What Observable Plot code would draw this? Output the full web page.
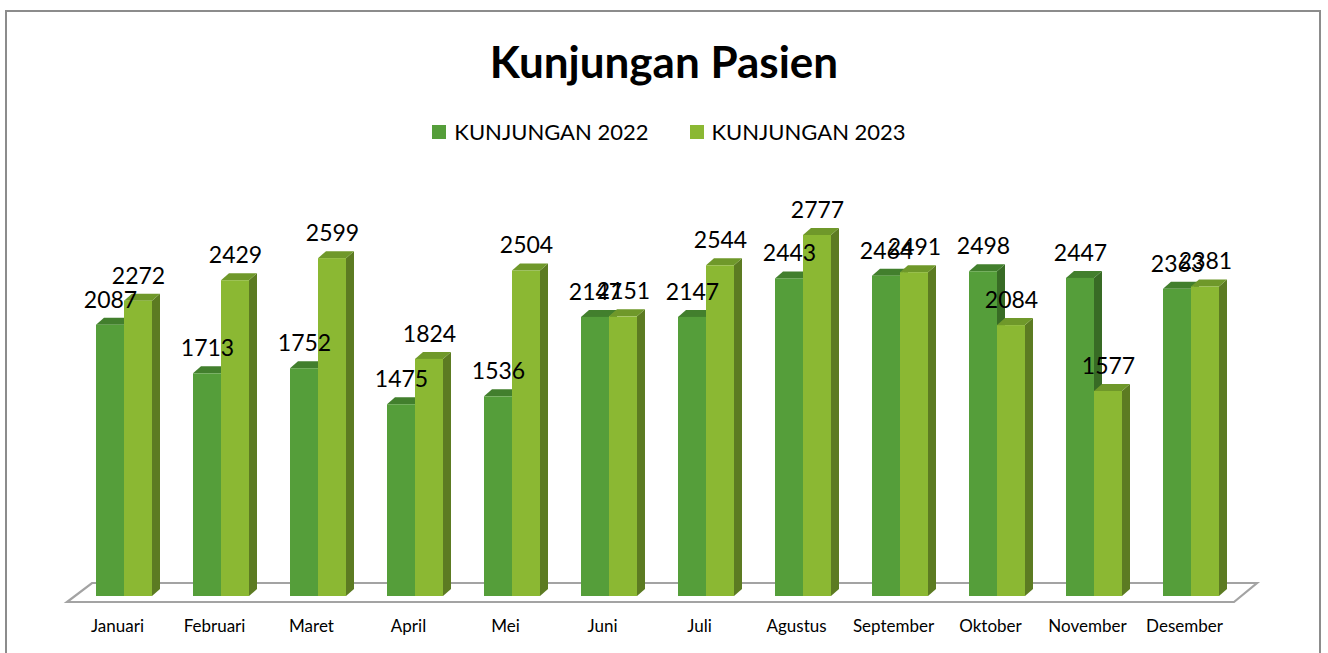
<!DOCTYPE html>
<html>
<head>
<meta charset="utf-8">
<script src="https://cdn.jsdelivr.net/npm/d3@7"></script>
<script src="https://cdn.jsdelivr.net/npm/@observablehq/plot@0.6"></script>
<style>
html, body { margin: 0; padding: 0; background: #fff; }
body { width: 1328px; height: 653px; overflow: hidden; position: relative; font-family: Lato, "Open Sans", sans-serif; color: #000; }
#border { position: absolute; left: 5px; top: 10px; width: 1316px; height: 720px; border: 2px solid #8c8c8c; box-sizing: border-box; }
#title { position: absolute; left: 0; top: 39px; width: 1328px; text-align: center; font-weight: 700; font-size: 44px; line-height: 44px; }
#legend { position: absolute; left: 0; top: 121px; width: 1338px; display: flex; justify-content: center; align-items: center; font-size: 22px; line-height: 22px; }
#legend .item { display: flex; align-items: center; }
#legend .item + .item { margin-left: 41px; }
#legend .sw { width: 14px; height: 14px; margin-right: 8px; }
#chart { position: absolute; left: 0; top: 160px; }
</style>
</head>
<body>
<div id="border"></div>
<div id="title"></div>
<div id="legend"></div>
<div id="chart"></div>
<script>
const chartTitle = "Kunjungan Pasien";
const months = ["Januari", "Februari", "Maret", "April", "Mei", "Juni", "Juli", "Agustus", "September", "Oktober", "November", "Desember"];
const seriesNames = ["KUNJUNGAN 2022", "KUNJUNGAN 2023"];
const kunjungan2022 = [2087, 1713, 1752, 1475, 1536, 2147, 2147, 2443, 2464, 2498, 2447, 2363];
const kunjungan2023 = [2272, 2429, 2599, 1824, 2504, 2151, 2544, 2777, 2491, 2084, 1577, 2381];

const palette = [
  {front: "#559e3a", top: "#427f2d", side: "#386b25"},
  {front: "#8bb833", top: "#6f982a", side: "#5c7b22"}
];
const DEPTH_X = 8, DEPTH_Y = 7;

document.getElementById("title").textContent = chartTitle;
const legend = d3.select("#legend");
seriesNames.forEach((name, k) => {
  const it = legend.append("div").attr("class", "item");
  it.append("div").attr("class", "sw").style("background", palette[k].front);
  it.append("span").text(name);
});

const series = [kunjungan2022, kunjungan2023].map((vals, k) =>
  months.map((m, i) => ({month: m, value: vals[i], series: seriesNames[k]}))
);

// 3D top and side faces, placed through the plot's own scales
function faces(data, slot, c) {
  return (index, scales, values, dimensions) => {
    const x = scales.x, y = scales.y;
    const half = x.bandwidth() / 2;
    const g = d3.create("svg:g");
    for (const d of data) {
      const x0 = x(d.month) + slot * half;
      const x1 = x0 + half;
      const yt = y(d.value), yb = y(0);
      g.append("polygon")
        .attr("points", [[x1, yt], [x1 + DEPTH_X, yt - DEPTH_Y], [x1 + DEPTH_X, yb - DEPTH_Y], [x1, yb]].join(" "))
        .attr("fill", c.side);
      g.append("polygon")
        .attr("points", [[x0, yt], [x0 + DEPTH_X, yt - DEPTH_Y], [x1 + DEPTH_X, yt - DEPTH_Y], [x1, yt]].join(" "))
        .attr("fill", c.top);
    }
    return g.node();
  };
}

// floor of the 3D plot area
function floor(index, scales, values, dimensions) {
  const {width, marginLeft, marginRight} = dimensions;
  const yb = scales.y(0);
  const fl = marginLeft - 28, fr = width - marginRight + 14, fy = yb + 6;
  const pts = [[fl, fy], [fr, fy], [fr + 23, fy - 19], [fl + 25, fy - 19]];
  return d3.create("svg:polygon")
    .attr("points", pts.join(" "))
    .attr("fill", "white")
    .attr("stroke", "#a3a3a3")
    .attr("stroke-width", 2.2)
    .node();
}

const half = 28;
const plot = Plot.plot({
  width: 1328,
  height: 493,
  marginTop: 46,
  marginBottom: 57,
  marginLeft: 95,
  marginRight: 108,
  style: {fontFamily: "Lato, 'Open Sans', sans-serif", background: "transparent", overflow: "visible"},
  x: {domain: months, type: "band", paddingInner: 0.424, paddingOuter: 0, axis: null},
  y: {domain: [0, 3000], axis: null},
  marks: [
    floor,
    faces(series[0], 0, palette[0]),
    Plot.barY(series[0], {x: "month", y: "value", fill: palette[0].front, insetRight: half}),
    faces(series[1], 1, palette[1]),
    Plot.barY(series[1], {x: "month", y: "value", fill: palette[1].front, insetLeft: half}),
    Plot.text(series[0], {x: "month", y: "value", text: d => String(d.value), dx: -14, dy: -25, fontSize: 23, fill: "black"}),
    Plot.text(series[1], {x: "month", y: "value", text: d => String(d.value), dx: 14, dy: -25, fontSize: 23, fill: "black"}),
    Plot.text(months, {x: d => d, frameAnchor: "bottom", dy: 35, dx: -7, fontSize: 17, fill: "black"})
  ]
});
document.getElementById("chart").appendChild(plot);
</script>
</body>
</html>
